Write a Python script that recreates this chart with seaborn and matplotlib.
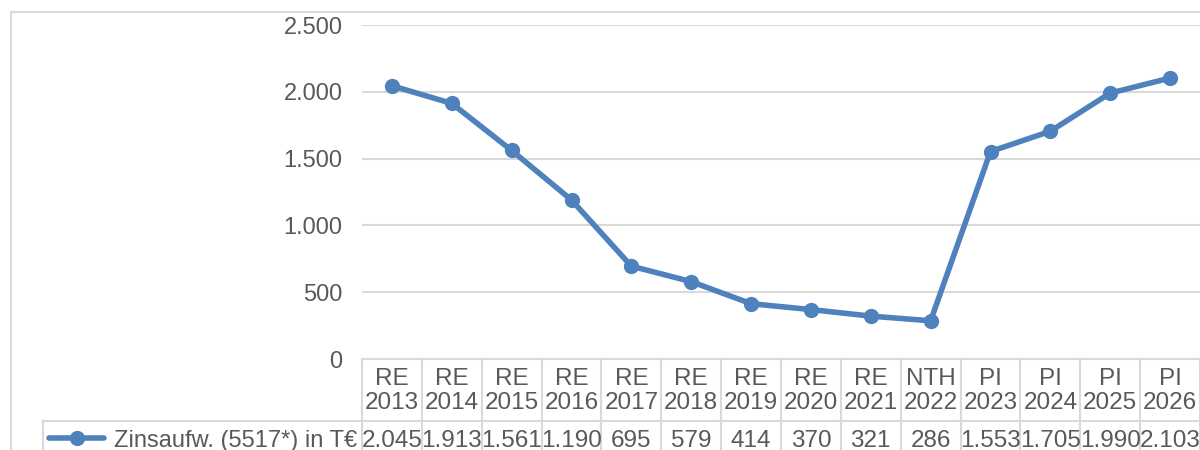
import numpy as np
import pandas as pd
import seaborn as sns
import matplotlib
matplotlib.use("Agg")
import matplotlib.pyplot as plt
from matplotlib.lines import Line2D
from matplotlib.transforms import blended_transform_factory

# data
kind = ["RE", "RE", "RE", "RE", "RE", "RE", "RE", "RE", "RE", "NTH", "PI", "PI", "PI", "PI"]
years = [2013, 2014, 2015, 2016, 2017, 2018, 2019, 2020, 2021, 2022, 2023, 2024, 2025, 2026]
zins = [2045, 1913, 1561, 1190, 695, 579, 414, 370, 321, 286, 1553, 1705, 1990, 2103]
series_name = "Zinsaufw. (5517*) in T€"
yticks = [0, 500, 1000, 1500, 2000, 2500]

blue = "#4F81BD"
grey = "#D9D9D9"
txt = "#595959"

sns.set_style("white")
plt.rcParams["font.family"] = ["Liberation Sans", "DejaVu Sans"]

def de(v):
    return f"{v:,.0f}".replace(",", ".")

df = pd.DataFrame({"pos": np.arange(len(years)), "val": zins})

W, H = 1200, 450
fig = plt.figure(figsize=(12, 4.5), dpi=100)
# plot area in pixels: x 362..1200, y 25..359
ax = fig.add_axes([362 / W, (H - 359) / H, 838 / W, 334 / H])

sns.lineplot(data=df, x="pos", y="val", ax=ax, color=blue, lw=4,
             marker="o", markersize=11, markeredgewidth=0, zorder=3)

ax.set_xlim(-0.5, len(years) - 0.5)
ax.set_ylim(0, 2500)
ax.set_yticks(yticks)
ax.set_yticklabels([de(t) for t in yticks])
ax.set_xticks([])
ax.set_xlabel("")
ax.set_ylabel("")
ax.tick_params(axis="y", length=0, pad=14, labelsize=17, labelcolor=txt)
ax.yaxis.grid(True, color=grey, lw=1.5)
ax.set_axisbelow(True)
for s in ax.spines.values():
    s.set_visible(False)

# figure-pixel helpers
def fy(y):
    return (H - y) / H

def fx(x):
    return x / W

tr = blended_transform_factory(ax.transData, fig.transFigure)
ftr = fig.transFigure
n = len(years)

# outer chart border
fig.add_artist(Line2D([fx(11), fx(11)], [fy(12), fy(460)], color=grey, lw=1.5, transform=ftr))
fig.add_artist(Line2D([fx(11), fx(1210)], [fy(12), fy(12)], color=grey, lw=1.5, transform=ftr))

# data table lines
fig.add_artist(Line2D([-0.5, n - 0.5], [fy(359), fy(359)], color=grey, lw=1.5, transform=tr, clip_on=False))
for i in range(n + 1):
    fig.add_artist(Line2D([i - 0.5, i - 0.5], [fy(359), fy(460)], color=grey, lw=1.5,
                          transform=tr, clip_on=False))
fig.add_artist(Line2D([fx(43), fx(362)], [fy(421), fy(421)], color=grey, lw=1.5, transform=ftr))
fig.add_artist(Line2D([-0.5, n - 0.5], [fy(421), fy(421)], color=grey, lw=1.5, transform=tr, clip_on=False))
fig.add_artist(Line2D([fx(43), fx(43)], [fy(421), fy(460)], color=grey, lw=1.5, transform=ftr))

# header and value cells
for i in range(n):
    fig.text(i, fy(391), f"{kind[i]}\n{years[i]}", transform=tr, ha="center", va="center",
             fontsize=17.5, color=txt, linespacing=1.12)
    fig.text(i, fy(441), de(zins[i]), transform=tr, ha="center", va="center",
             fontsize=17.5, color=txt)

# legend key in the table
fig.add_artist(Line2D([fx(49), fx(104)], [fy(438), fy(438)], color=blue, lw=4, transform=ftr))
fig.add_artist(Line2D([fx(77)], [fy(438)], color=blue, marker="o", markersize=11,
                      markeredgewidth=0, transform=ftr))
fig.text(fx(357), fy(441), series_name, ha="right", va="center", fontsize=17, color=txt)

fig.savefig("out.png", dpi=100)
